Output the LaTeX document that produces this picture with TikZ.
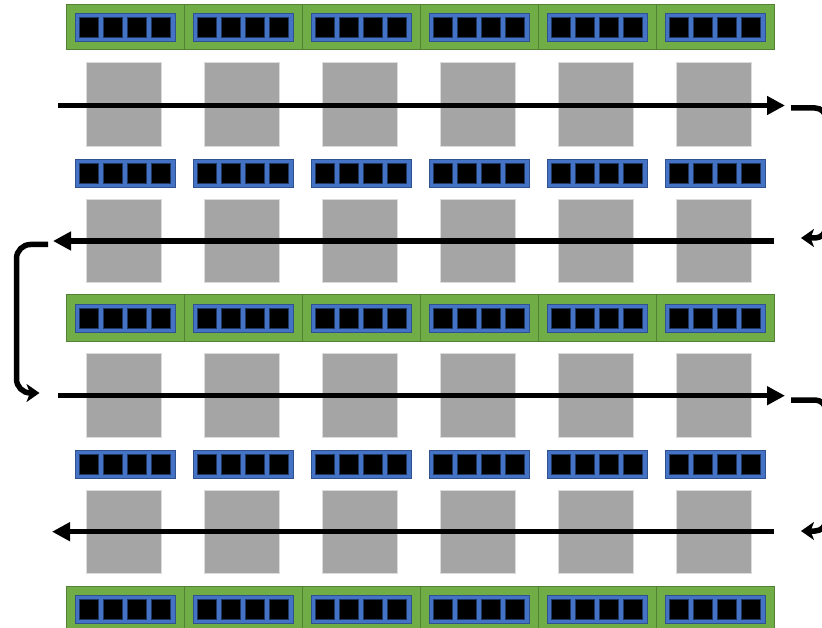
\documentclass[tikz,border=0pt]{standalone}
\usetikzlibrary{arrows.meta}
\definecolor{gcell}{HTML}{70AD47}
\definecolor{gedge}{HTML}{548235}
\definecolor{bbar}{HTML}{4472C4}
\definecolor{bedge}{HTML}{2F528F}
\definecolor{gblk}{HTML}{A5A5A5}
\definecolor{sqedge}{HTML}{1F3864}
\begin{document}
\begin{tikzpicture}[x=1pt,y=-1pt,
  box/.style={inner sep=0pt,outer sep=0pt,anchor=north west,rectangle},
  greencell/.style={box,fill=gcell,draw=gedge,line width=1pt,minimum width=118pt},
  bluebar/.style={box,fill=bbar,draw=bedge,line width=0.8pt,minimum width=100pt,minimum height=28.5pt},
  cellsq/.style={box,fill=black,draw=sqedge,line width=0.5pt,minimum width=19pt,minimum height=19.5pt},
  grayblk/.style={box,fill=gblk,draw=gblk!40!white,line width=0.6pt,minimum width=75pt},
  mainarrow/.style={line width=5.5pt,-{Triangle[length=18pt,width=18pt]}},
  hookarrow/.style={line width=5.5pt,-{Stealth[length=13pt,width=18pt,inset=3.5pt]}}]
\useasboundingbox (0,0) rectangle (822,628);
\clip (0,0) rectangle (822,628);
% green strips
\foreach \y/\h/\r in {5/45/t,295/47/m,586/45/b}{
  \foreach \k in {0,...,5}{
    \node[greencell,minimum height=\h pt] (g\r\k) at ({66+118*\k},\y) {};
  }
}
% blue bars with cells
\foreach \y/\r in {13/1,159/2,304/3,450/4,595/5}{
  \foreach \k in {0,...,5}{
    \node[bluebar] (b\r\k) at ({75+118*\k},\y) {};
    \foreach \i in {0,...,3}{
      \node[cellsq] (s\r\k\i) at ({79+24*\i+118*\k},{\y+4.5}) {};
    }
  }
}
% gray blocks
\foreach \y/\h/\r in {62.5/83.5/1,199.5/82.5/2,353/84/3,490/83/4}{
  \foreach \k in {0,...,5}{
    \node[grayblk,minimum height=\h pt] (p\r\k) at ({86.7+118*\k},\y) {};
  }
}
% main arrows
\coordinate (a1s) at (58,105.5);  \coordinate (a1e) at (785,105.5);
\coordinate (a2s) at (774,241);   \coordinate (a2e) at (53,241);
\coordinate (a3s) at (58,395.7);  \coordinate (a3e) at (785,395.7);
\coordinate (a4s) at (774,531.7); \coordinate (a4e) at (52,531.7);
\draw[mainarrow] (a1s) -- (a1e);
\draw[mainarrow] (a2s) -- (a2e);
\draw[mainarrow] (a3s) -- (a3e);
\draw[mainarrow] (a4s) -- (a4e);
% right return hooks
\coordinate (h1s) at (791,108);  \coordinate (h1a) at (826,108);
\coordinate (h1b) at (826,238);  \coordinate (h1e) at (801,238);
\coordinate (h2s) at (791,400);  \coordinate (h2a) at (826,400);
\coordinate (h2b) at (826,531);  \coordinate (h2e) at (801,531);
\draw[hookarrow,rounded corners=11pt] (h1s) -- (h1a) -- (h1b) -- (h1e);
\draw[hookarrow,rounded corners=11pt] (h2s) -- (h2a) -- (h2b) -- (h2e);
% left return hook
\coordinate (ls) at (48,244.5);  \coordinate (la) at (16.5,244.5);
\coordinate (lb) at (16.5,393);  \coordinate (le) at (39.5,393);
\draw[hookarrow,rounded corners=14pt] (ls) -- (la) -- (lb) -- (le);
\end{tikzpicture}
\end{document}
